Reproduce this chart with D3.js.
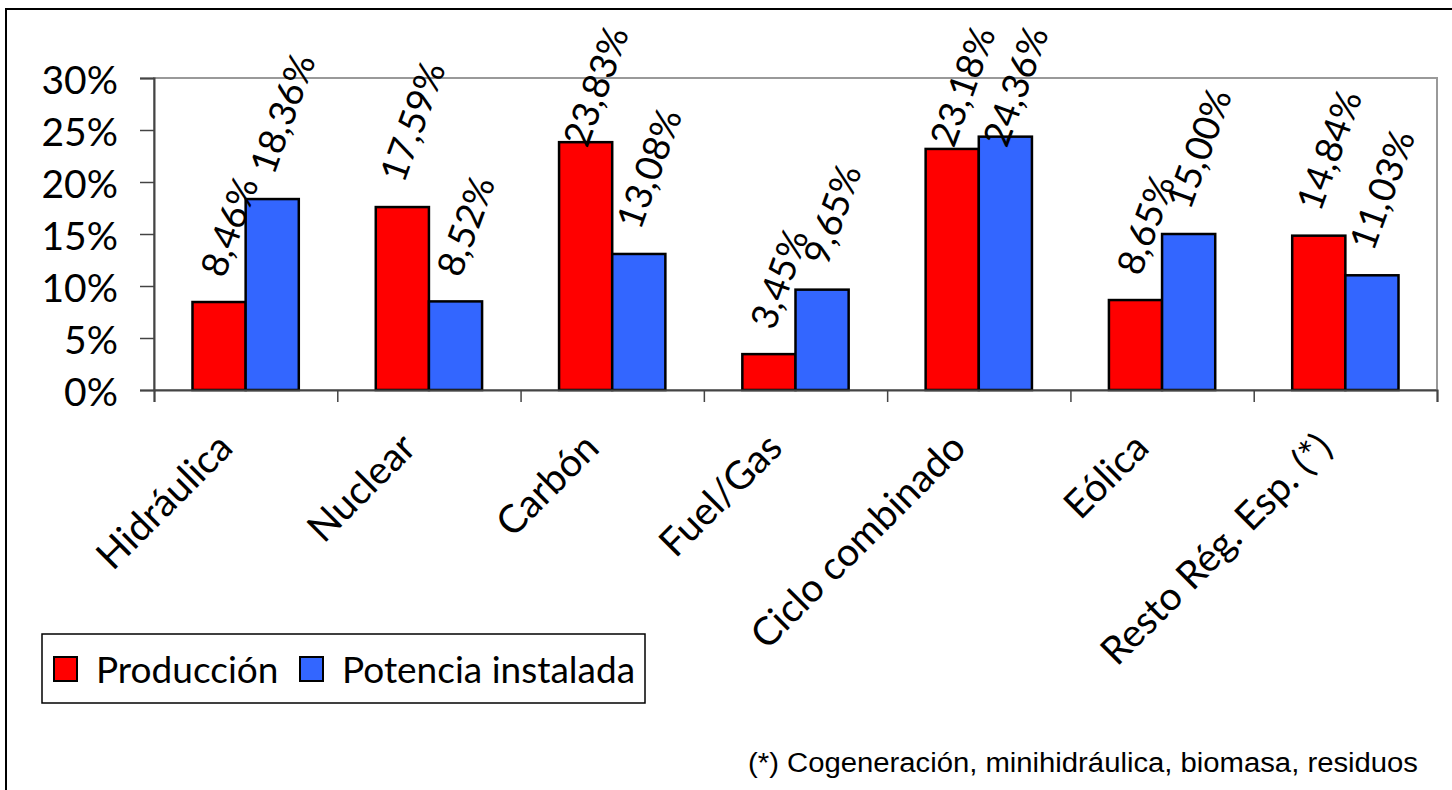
<!DOCTYPE html>
<html>
<head>
<meta charset="utf-8">
<script src="https://cdn.jsdelivr.net/npm/d3@7"></script>
<style>
  body { margin: 0; background: #fff; }
  svg { display: block; }
  .lbl { font-family: Lato, "Open Sans", sans-serif; fill: #000; }
</style>
</head>
<body>
<svg id="chart" width="1452" height="790"></svg>
<script>
// data
var categories = ["Hidráulica", "Nuclear", "Carbón", "Fuel/Gas", "Ciclo combinado", "Eólica", "Resto Rég. Esp. (*)"];
var seriesNames = ["Producción", "Potencia instalada"];
var produccion = [8.46, 17.59, 23.83, 3.45, 23.18, 8.65, 14.84];
var potencia = [18.36, 8.52, 13.08, 9.65, 24.36, 15.00, 11.03];
var yTicks = [0, 5, 10, 15, 20, 25, 30];
var seriesColors = ["#ff0000", "#3366ff"];
var footnote = "(*) Cogeneración, minihidráulica, biomasa, residuos";

var plot = {left: 154, right: 1437, top: 78, bottom: 390};

var svg = d3.select("#chart");

// outer frame (runs off the right and bottom edge)
svg.append("rect")
  .attr("x", 6).attr("y", 9)
  .attr("width", 1480).attr("height", 820)
  .attr("fill", "#fff")
  .attr("stroke", "#000")
  .attr("stroke-width", 2);

var x0 = d3.scaleBand().domain(categories).range([plot.left, plot.right]).padding(0);
var x1 = d3.scaleBand().domain(seriesNames)
  .range([x0.bandwidth() * 0.21, x0.bandwidth() * 0.79]);
var y = d3.scaleLinear().domain([0, 30]).range([plot.bottom, plot.top]);
var color = d3.scaleOrdinal().domain(seriesNames).range(seriesColors);

// plot area border
svg.append("rect")
  .attr("x", plot.left).attr("y", plot.top)
  .attr("width", plot.right - plot.left)
  .attr("height", plot.bottom - plot.top)
  .attr("fill", "none")
  .attr("stroke", "#999")
  .attr("stroke-width", 2);

var rows = categories.map(function (c, i) {
  return {cat: c, values: [
    {s: seriesNames[0], v: produccion[i]},
    {s: seriesNames[1], v: potencia[i]}
  ]};
});

var groups = svg.selectAll(".grp")
  .data(rows)
  .enter().append("g")
  .attr("class", "grp")
  .attr("transform", function (d) { return "translate(" + x0(d.cat) + ",0)"; });

groups.selectAll("rect")
  .data(function (d) { return d.values; })
  .enter().append("rect")
  .attr("x", function (d) { return x1(d.s); })
  .attr("y", function (d) { return y(d.v); })
  .attr("width", x1.bandwidth())
  .attr("height", function (d) { return y(0) - y(d.v); })
  .attr("fill", function (d) { return color(d.s); })
  .attr("stroke", "#000")
  .attr("stroke-width", 2.5);

// y axis
var yAxis = d3.axisLeft(y)
  .tickValues(yTicks)
  .tickSize(14)
  .tickPadding(22)
  .tickFormat(function (d) { return d + "%"; });

var gy = svg.append("g")
  .attr("transform", "translate(" + plot.left + ",0)")
  .call(yAxis);
gy.select(".domain").attr("stroke", "#444").attr("stroke-width", 2);
gy.selectAll(".tick line").attr("stroke", "#444").attr("stroke-width", 1.5);
gy.selectAll(".tick text")
  .attr("class", "lbl")
  .attr("font-size", 39)
  .attr("dy", "0.40em");

// x axis, ticks between categories
var xb = d3.scaleLinear().domain([0, categories.length]).range([plot.left, plot.right]);
var gx = svg.append("g")
  .attr("transform", "translate(0," + plot.bottom + ")")
  .call(d3.axisBottom(xb).ticks(categories.length).tickSize(12).tickFormat(""));
gx.select(".domain").attr("stroke", "#444").attr("stroke-width", 2);
gx.selectAll(".tick line").attr("stroke", "#444").attr("stroke-width", 1.5);

// category labels
svg.selectAll(".cat")
  .data(categories)
  .enter().append("text")
  .attr("class", "lbl cat")
  .attr("font-size", 39)
  .attr("text-anchor", "end")
  .attr("transform", function (d) {
    return "translate(" + (x0(d) + x0.bandwidth() / 2 - 11) + ",450) rotate(-45)";
  })
  .text(function (d) { return d; });

// value labels, above each bar, kept inside the chart area
var fmt = function (v) { return v.toFixed(2).replace(".", ",") + "%"; };
groups.each(function (row) {
  var g = d3.select(this);
  row.values.forEach(function (d) {
    var lg = g.append("g");
    lg.append("text")
      .attr("class", "lbl")
      .attr("font-size", 37)
      .attr("transform", "rotate(-70)")
      .text(fmt(d.v));
    var bb = lg.node().getBBox();
    var cx = x1(d.s) + x1.bandwidth() / 2 + 9;
    var ty = y(d.v) - 20 - (bb.y + bb.height);
    if (ty + bb.y < 20) ty = 20 - bb.y;
    lg.attr("transform", "translate(" + (cx - (bb.x + bb.width / 2)) + "," + ty + ")");
  });
});

// legend
var legend = svg.append("g").attr("transform", "translate(42,634)");
legend.append("rect")
  .attr("width", 603).attr("height", 69)
  .attr("fill", "#fff")
  .attr("stroke", "#000")
  .attr("stroke-width", 1.5);
var legX = [12, 258];
seriesNames.forEach(function (s, i) {
  legend.append("rect")
    .attr("x", legX[i]).attr("y", 23)
    .attr("width", 23).attr("height", 24)
    .attr("fill", color(s))
    .attr("stroke", "#000")
    .attr("stroke-width", 2);
  legend.append("text")
    .attr("class", "lbl")
    .attr("x", legX[i] + 42).attr("y", 49)
    .attr("font-size", 37)
    .text(s);
});

// footnote
svg.append("text")
  .attr("x", 1418).attr("y", 772)
  .attr("text-anchor", "end")
  .attr("font-family", "'Liberation Sans', Arial, sans-serif")
  .attr("font-size", 27)
  .attr("textLength", 670)
  .attr("lengthAdjust", "spacingAndGlyphs")
  .text(footnote);
</script>
</body>
</html>
